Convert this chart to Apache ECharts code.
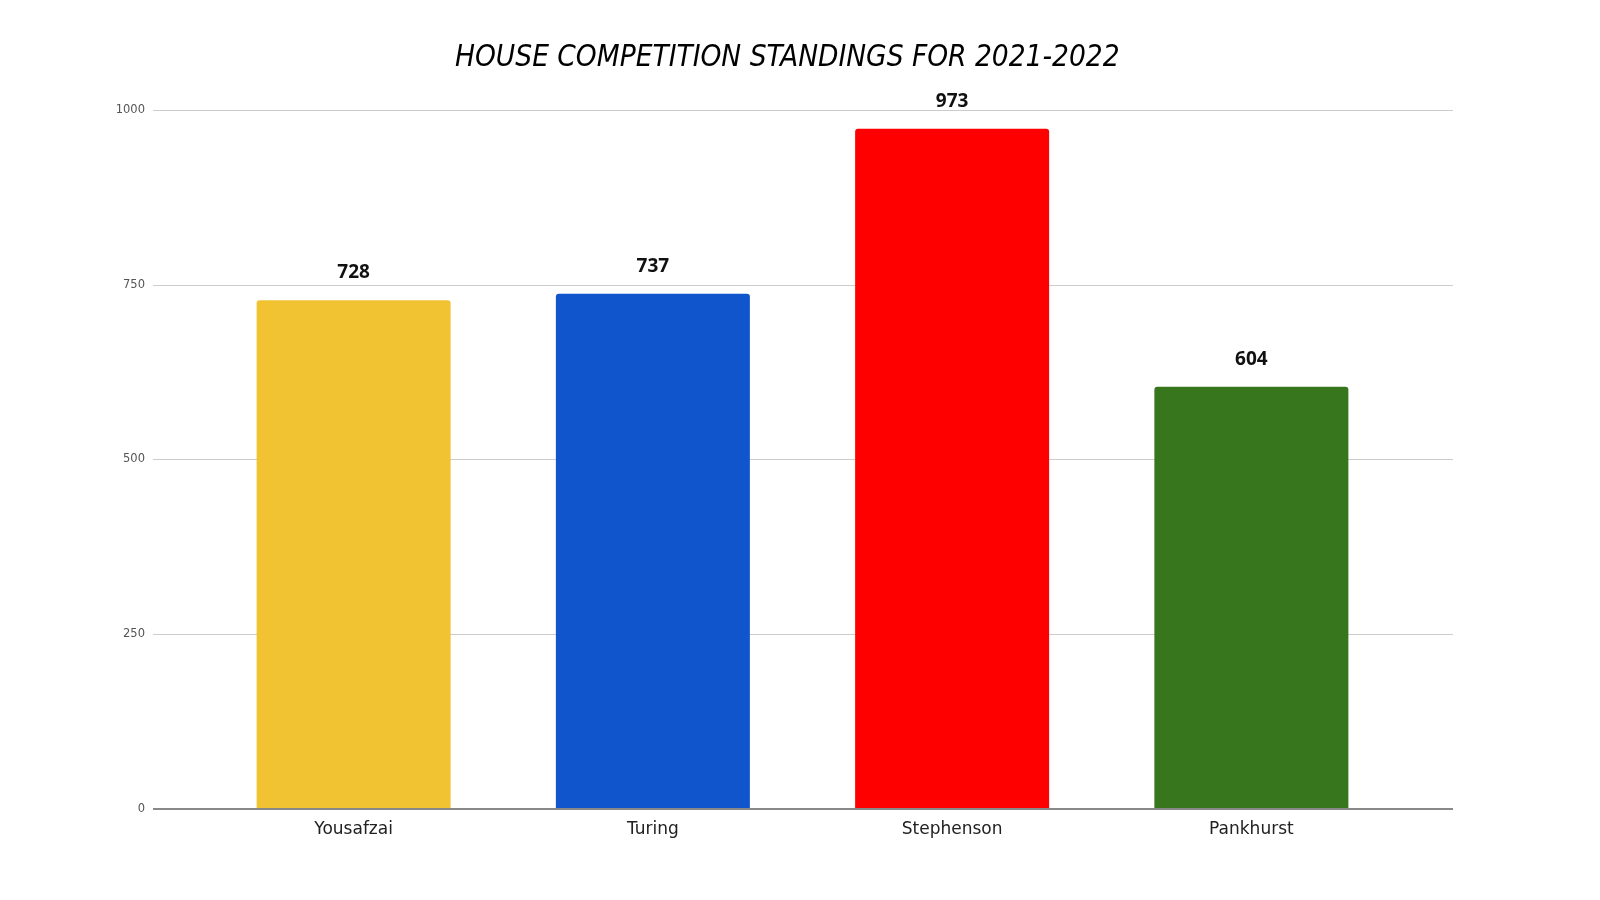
<!DOCTYPE html>
<html><head><meta charset="utf-8">
<script src="https://cdn.jsdelivr.net/npm/echarts@6/dist/echarts.min.js"></script>
<style>html,body{margin:0;padding:0;background:#fff}#c{width:1600px;height:900px}</style>
</head><body><div id="c"></div>
<script>
const categories = ['Yousafzai', 'Turing', 'Stephenson', 'Pankhurst'];
const values = [728, 737, 973, 604];
const barColors = ['#F1C232', '#1155CC', '#FF0000', '#38761D'];
const yTicks = [0, 250, 500, 750, 1000];

const chart = echarts.init(document.getElementById('c'));
chart.setOption({
  backgroundColor: '#ffffff',
  animation: false,
  title: {
    text: 'HOUSE COMPETITION STANDINGS FOR 2021-2022',
    left: 450, top: 38,
    textStyle: { fontFamily: 'DejaVu Sans Condensed, DejaVu Sans', fontStyle: 'italic', fontWeight: 'normal', fontSize: 29.5, color: '#000' }
  },
  grid: [
    { left: 153, right: 147, top: 110, bottom: 91 },
    { left: 204, right: 199, top: 110, bottom: 91 }
  ],
  xAxis: [
    { gridIndex: 0, type: 'value', min: 0, max: 1, show: true,
      axisLine: { show: false }, axisTick: { show: false }, axisLabel: { show: false }, splitLine: { show: false } },
    { gridIndex: 1, type: 'category', data: categories,
      axisLine: { show: false }, axisTick: { show: false },
      axisLabel: { fontFamily: 'DejaVu Sans', fontSize: 17, color: '#222', margin: 12 } }
  ],
  yAxis: [
    { gridIndex: 0, type: 'value', min: yTicks[0], max: yTicks[yTicks.length - 1], interval: 250,
      axisLine: { show: false }, axisTick: { show: false },
      axisLabel: { fontFamily: 'DejaVu Sans', fontSize: 11.5, color: '#555', margin: 8, formatter: v => String(v) },
      splitLine: { lineStyle: { color: '#cccccc', width: 1 } } },
    { gridIndex: 1, type: 'value', min: yTicks[0], max: yTicks[yTicks.length - 1], interval: 250, show: false,
      splitLine: { show: false } }
  ],
  series: [
    { type: 'line', xAxisIndex: 0, yAxisIndex: 0, data: [[0, 0], [1, 0]], symbol: 'none',
      lineStyle: { color: '#888888', width: 2 }, silent: true, z: 5 },
    { type: 'bar', xAxisIndex: 1, yAxisIndex: 1, barWidth: 194,
      data: values.map((v, i) => ({ value: v, itemStyle: { color: barColors[i], borderRadius: [3, 3, 0, 0] } })),
      label: { show: true, position: 'top', distance: 18, fontFamily: 'Open Sans', fontWeight: 'bold', fontSize: 19, color: '#111' },
      z: 3 }
  ]
});
</script></body></html>
